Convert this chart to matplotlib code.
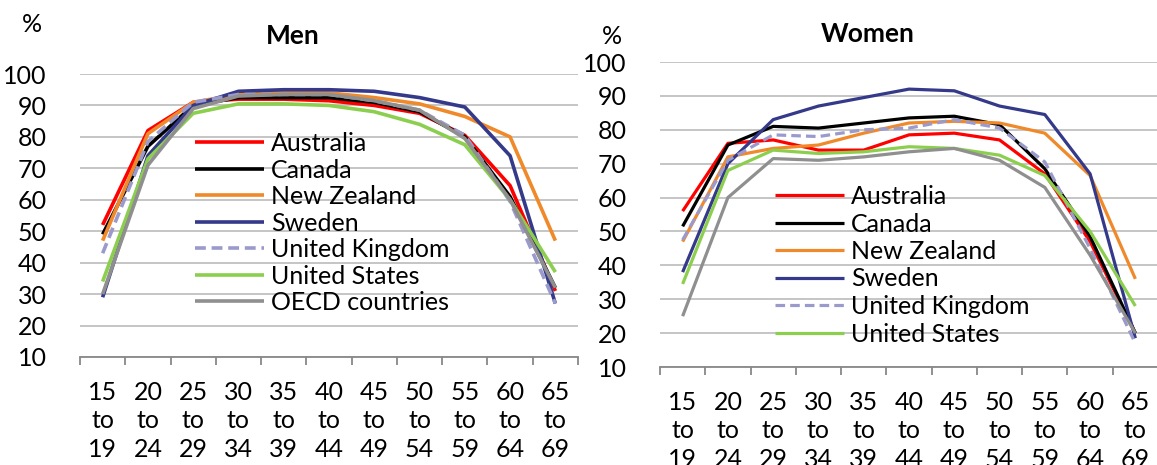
import numpy as np
import matplotlib.pyplot as plt

plt.rcParams['font.family'] = ['Lato', 'DejaVu Sans']

# age groups on the x axis
age_groups = ['15\nto\n19', '20\nto\n24', '25\nto\n29', '30\nto\n34', '35\nto\n39', '40\nto\n44',
              '45\nto\n49', '50\nto\n54', '55\nto\n59', '60\nto\n64', '65\nto\n69']

countries = ['Australia', 'Canada', 'New Zealand', 'Sweden', 'United Kingdom', 'United States', 'OECD countries']

# participation rates, men (%)
men_australia = [52, 82, 91, 92, 92, 91.5, 90, 87.5, 80.5, 64.5, 31]
men_canada = [49, 77, 90, 92.5, 92.5, 92.5, 91, 88, 80, 61, 32]
men_nz = [47, 81, 91, 93.5, 94.5, 94, 92.5, 90.5, 86.5, 80, 47]
men_sweden = [29, 74, 90, 94.5, 95, 95, 94.5, 92.5, 89.5, 74, 27]
men_uk = [43, 78.5, 91, 93.5, 93.5, 93.5, 91.5, 88.5, 80.5, 59.5, 27]
men_us = [34, 73, 87.5, 90.5, 90.5, 90, 88, 84, 77.5, 60, 37]
men_oecd = [30, 71, 89, 93, 93.5, 93.5, 91.5, 88.5, 79.5, 60, 32]

# participation rates, women (%)
women_australia = [56, 76, 77, 74, 74, 78.5, 79, 77, 67, 47, 20]
women_canada = [51.5, 75.5, 81, 80.5, 82, 83.5, 84, 81.5, 68.5, 48.5, 20]
women_nz = [47, 72, 74.5, 75.5, 79, 82, 82.5, 82, 79, 66.5, 36]
women_sweden = [38, 70, 83, 87, 89.5, 92, 91.5, 87, 84.5, 67, 18.5]
women_uk = [47.5, 71, 78.5, 78, 80, 80.5, 83, 80.5, 70.5, 45, 17]
women_us = [34.5, 68, 74, 73, 73.5, 75, 74.5, 72.5, 66.5, 50, 28]
women_oecd = [25, 60, 71.5, 71, 72, 73.5, 74.5, 71, 63, 43, 20]

colors = ['#ff0000', '#000000', '#f0892a', '#34398a', '#9a9acc', '#8ccf4f', '#8f8f8f']
styles = ['-', '-', '-', '-', '--', '-', '-']

men = [men_australia, men_canada, men_nz, men_sweden, men_uk, men_us, men_oecd]
women = [women_australia, women_canada, women_nz, women_sweden, women_uk, women_us, women_oecd]

W, H = 1157, 465
fig = plt.figure(figsize=(W / 100, H / 100), dpi=100)
ax1 = fig.add_axes([80 / W, 1 - 357 / H, 498 / W, 283 / H])
ax2 = fig.add_axes([660 / W, 1 - 367 / H, 498 / W, 305 / H])

x = np.arange(len(age_groups))


def draw_panel(ax, data, lw):
    lines = []
    for vals, name, c, ls in zip(data, countries, colors, styles):
        ln, = ax.plot(x, vals, color=c, lw=lw, ls=ls, label=name, solid_capstyle='butt')
        if ls == '--':
            ln.set_dashes((3, 1.6))
        lines.append(ln)
    ax.set_ylim(10, 100)
    ax.set_xlim(-0.5, len(age_groups) - 0.5)
    ax.set_yticks(np.arange(10, 101, 10))
    ax.yaxis.grid(True, color='#c0c0c0', lw=1.3)
    ax.set_axisbelow(True)
    for s in ['top', 'right', 'left']:
        ax.spines[s].set_visible(False)
    ax.spines['bottom'].set_color('#888888')
    ax.spines['bottom'].set_linewidth(1.3)
    ax.set_xticks(x)
    ax.set_xticklabels(age_groups, fontsize=18, linespacing=1.3)
    ax.set_xticks(np.arange(-0.5, len(age_groups)), minor=True)
    ax.tick_params(axis='x', which='major', length=0, pad=17)
    ax.tick_params(axis='x', which='minor', length=6, width=1.3, color='#888888')
    ax.tick_params(axis='y', length=0, pad=24, labelsize=18)
    return lines


lines1 = draw_panel(ax1, men, 2.6)
lines2 = draw_panel(ax2, women, 2.3)

fig.text(293 / W, 1 - 36 / H, 'Men', fontsize=19, fontweight='bold', ha='center', va='center')
fig.text(868 / W, 1 - 34 / H, 'Women', fontsize=19, fontweight='bold', ha='center', va='center')
fig.text(32 / W, 1 - 24 / H, '%', fontsize=18, ha='center', va='center')
fig.text(612 / W, 1 - 37 / H, '%', fontsize=18, ha='center', va='center')

fig.legend(handles=lines1, loc='upper left', bbox_to_anchor=(195 / W, 1 - 132 / H), frameon=False,
           fontsize=18, handlelength=2.76, handletextpad=0.28, labelspacing=0.14, borderpad=0, borderaxespad=0)
fig.legend(handles=lines2[:6], loc='upper left', bbox_to_anchor=(775 / W, 1 - 185 / H), frameon=False,
           fontsize=18, handlelength=2.76, handletextpad=0.28, labelspacing=0.18, borderpad=0, borderaxespad=0)

fig.savefig('out.png', dpi=100)
